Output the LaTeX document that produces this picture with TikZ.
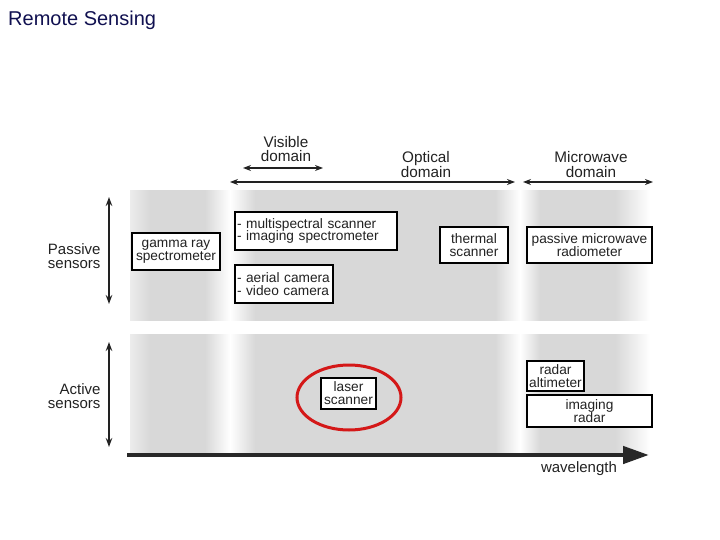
\documentclass[tikz,border=0pt]{standalone}
\usepackage{fontspec}
\setmainfont{Liberation Sans}
\usetikzlibrary{arrows.meta,shapes.geometric}
\definecolor{bandgray}{RGB}{216,216,216}
\definecolor{bandlight}{RGB}{236,236,236}
\definecolor{navy}{RGB}{16,16,80}
\definecolor{txt}{RGB}{34,34,34}
\definecolor{ring}{RGB}{212,24,24}
\definecolor{arrowdark}{RGB}{40,40,40}
% horizontal band shading; the middle 25bp--75bp maps onto x = 130..650
\pgfdeclarehorizontalshading{bandshade}{100bp}{
  color(0bp)=(bandlight);
  color(25bp)=(bandlight);
  color(26.92bp)=(bandgray);
  color(32.21bp)=(bandgray);
  color(34.62bp)=(white);
  color(37.02bp)=(bandgray);
  color(60.10bp)=(bandgray);
  color(62.5bp)=(white);
  color(64.42bp)=(bandgray);
  color(71.63bp)=(bandgray);
  color(75bp)=(white);
  color(100bp)=(white)}
\begin{document}
\begin{tikzpicture}[x=1pt,y=-1pt,
  sensorbox/.style={draw=black,line width=1.2pt,fill=white,inner sep=0pt,
    font=\fontsize{13.7}{12.8}\selectfont,text=txt,align=center},
  leftbox/.style={sensorbox,align=left,inner xsep=2pt},
  sidelabel/.style={font=\fontsize{15}{14.5}\selectfont,text=txt,align=right,anchor=east},
  domlabel/.style={font=\fontsize{15.3}{14.5}\selectfont,text=txt,align=center},
  domarrow/.style={line width=1.3pt,draw=txt,{Stealth[length=8pt,width=6pt]}-{Stealth[length=8pt,width=6pt]}},
  vertarrow/.style={line width=2pt,draw=txt,{Stealth[length=9pt,width=6.5pt]}-{Stealth[length=9pt,width=6.5pt]}},
]
\useasboundingbox (0,0) rectangle (720,540);

% title
\node[anchor=base west,inner sep=0pt,font=\fontsize{20}{20}\selectfont,text=navy] (title) at (8,26) {Remote Sensing};

% gray bands
\shade[shading=bandshade] (130,191) rectangle (650,320);
\shade[shading=bandshade] (130,334) rectangle (650,454);

% domain labels and arrows
\node[domlabel] (visible) at (286,149) {Visible\\domain};
\node[domlabel] (optical) at (426,164.5) {Optical\\domain};
\node[domlabel] (microwave) at (591,164.5) {Microwave\\domain};
\coordinate (vis0) at (243,168);
\coordinate (vis1) at (323,168);
\coordinate (opt0) at (230,182);
\coordinate (opt1) at (515,182);
\coordinate (mic0) at (523,182);
\coordinate (mic1) at (653,182);
\draw[domarrow] (vis0) -- (vis1);
\draw[domarrow] (opt0) -- (opt1);
\draw[domarrow] (mic0) -- (mic1);

% side labels and arrows
\node[sidelabel] (passive) at (104,256) {Passive\\sensors};
\node[sidelabel] (active) at (104,396) {Active\\sensors};
\coordinate (pas0) at (109,197);
\coordinate (pas1) at (109,304);
\coordinate (act0) at (109,342);
\coordinate (act1) at (109,447);
\draw[vertarrow] (pas0) -- (pas1);
\draw[vertarrow] (act0) -- (act1);

% passive sensors
\node[sensorbox,minimum width=88pt,minimum height=37pt] (gamma) at (176,251.5) {gamma ray\\spectrometer};
\node[leftbox,text width=158pt,minimum height=38pt] (multi) at (316,231) {- multispectral scanner\\- imaging spectrometer};
\node[leftbox,text width=94pt,minimum height=38pt] (aerial) at (284,284) {- aerial camera\\- video camera};
\node[sensorbox,minimum width=68pt,minimum height=36pt] (thermal) at (474,245) {thermal\\scanner};
\node[sensorbox,minimum width=125pt,minimum height=36pt] (pmr) at (589.5,245) {passive microwave\\radiometer};

% active sensors
\node[ellipse,draw=ring,line width=3pt,minimum width=104pt,minimum height=65pt,inner sep=0pt] (ring) at (349,397.5) {};
\node[sensorbox,minimum width=55pt,minimum height=31pt] (laser) at (348.5,393.5) {laser\\scanner};
\node[sensorbox,minimum width=57pt,minimum height=30pt] (altim) at (555.5,376) {radar\\altimeter};
\node[sensorbox,minimum width=125pt,minimum height=32pt] (imgradar) at (589.5,411) {imaging\\radar};

% wavelength axis
\coordinate (wl0) at (127,455);
\coordinate (wl1) at (649,455);
\draw[line width=4.5pt,draw=arrowdark,-{Triangle[length=26pt,width=17pt]}] (wl0) -- (wl1);
\node[font=\fontsize{15}{14.5}\selectfont,text=txt] (wavelength) at (579,469) {wavelength};
\end{tikzpicture}
\end{document}
